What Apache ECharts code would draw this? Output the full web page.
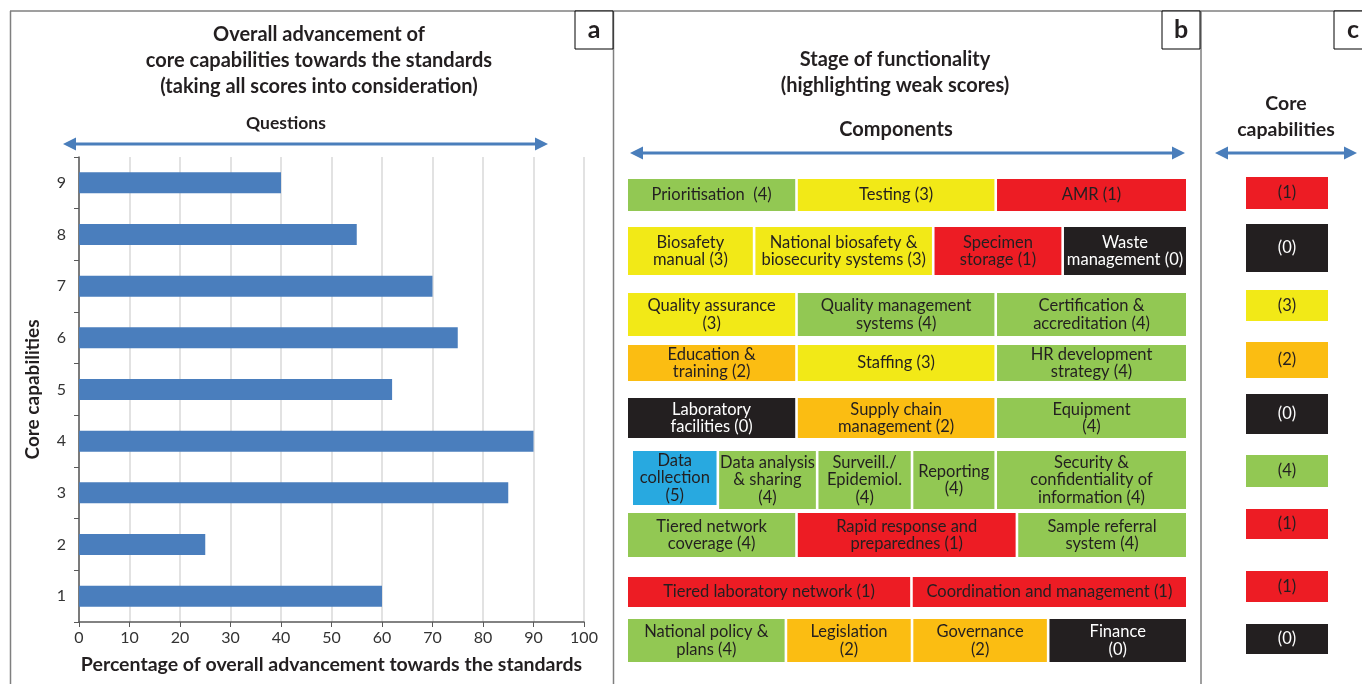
<!DOCTYPE html>
<html>
<head>
<meta charset="utf-8">
<script src="https://cdn.jsdelivr.net/npm/echarts@6/dist/echarts.min.js"></script>
<style>
  html, body { margin: 0; padding: 0; background: #fff; }
  #main { width: 1362px; height: 684px; }
</style>
</head>
<body>
<div id="main"></div>
<script>
// ---- panel a: overall advancement per core capability (%)
const capabilities = ['1', '2', '3', '4', '5', '6', '7', '8', '9'];
const advancement = [60, 25, 85, 90, 62, 75, 70, 55, 40];

// ---- panel b: components and their scores, rows from top to bottom
const componentNames = [
  ['Prioritisation ', 'Testing', 'AMR'],
  ['Biosafety\nmanual', 'National biosafety &\nbiosecurity systems', 'Specimen\nstorage', 'Waste\nmanagement'],
  ['Quality assurance\n', 'Quality management\nsystems', 'Certification &\naccreditation'],
  ['Education &\ntraining', 'Staffing', 'HR development\nstrategy'],
  ['Laboratory\nfacilities', 'Supply chain\nmanagement', 'Equipment\n'],
  ['Data\ncollection\n', 'Data analysis\n& sharing\n', 'Surveill./\nEpidemiol.\n', 'Reporting\n', 'Security &\nconfidentiality of\ninformation'],
  ['Tiered network\ncoverage', 'Rapid response and\npreparednes', 'Sample referral\nsystem'],
  ['Tiered laboratory network', 'Coordination and management'],
  ['National policy &\nplans', 'Legislation\n', 'Governance\n', 'Finance\n']
];
const componentScores = [
  [4, 3, 1],
  [3, 3, 1, 0],
  [3, 4, 4],
  [2, 3, 4],
  [0, 2, 4],
  [5, 4, 4, 4, 4],
  [4, 1, 4],
  [1, 1],
  [4, 2, 2, 0]
];

// ---- panel c: core capability scores, top to bottom
const coreScores = [1, 0, 3, 2, 0, 4, 1, 1, 0];

// layout of the blocks (hidden axes: x in % of row width, y in px)
const rowSpans = [[179, 211], [227, 275], [293, 336], [345, 381], [398, 438], [451, 509], [513, 557], [577, 607], [619, 662]];
const cellBreaks = [
  [30.2, 65.9], [22.6, 54.7, 77.9], [30.2, 65.9], [30.2, 65.9], [30.2, 65.9],
  [16.1, 33.9, 50.9, 65.9], [30.2, 69.7], [50.8], [28.3, 50.9, 75.3]
];
const coreSpans = [[177, 209], [224, 272], [290, 321], [342, 378], [394, 434], [455, 487], [509, 539], [571, 602], [624, 654]];
// the "Data collection" block sits a bit inside its slot: [row, cell, left px, bottom px]
const cellInsets = [[5, 0, 5, 4]];

const scoreColors = ['#231f20', '#ed1c24', '#fbbd12', '#f2e917', '#92c853', '#28a9e0'];
const FONT = 'Lato, "Open Sans", sans-serif';
const BLUE = '#4a7ebb';

// build block items for panel b
const bLabels = [];
const bData = [];
componentNames.forEach((names, r) => {
  const br = cellBreaks[r];
  names.forEach((nm, c) => {
    const x0 = c === 0 ? 0 : br[c - 1];
    const x1 = c === names.length - 1 ? 100 : br[c];
    const ins = cellInsets.find(d => d[0] === r && d[1] === c) || [r, c, 0, 0];
    const s = componentScores[r][c];
    bLabels.push(nm + (nm.endsWith('\n') ? '' : ' ') + '(' + s + ')');
    bData.push([x0, x1, rowSpans[r][0], rowSpans[r][1], s, ins[2], ins[3]]);
  });
});
const cData = coreScores.map((s, i) => [0, 1, coreSpans[i][0], coreSpans[i][1], s, 0, 0]);

function blockRenderer(labels) {
  return function (params, api) {
    const p0 = api.coord([api.value(0), api.value(2)]);
    const p1 = api.coord([api.value(1), api.value(3)]);
    const gap = 1.3;
    const x0 = p0[0] + (api.value(0) > 0 ? gap : 0) + api.value(5);
    const x1 = p1[0] - (api.value(1) < 100 && labels !== null ? gap : 0);
    const y0 = p0[1];
    const y1 = p1[1] - api.value(6);
    const s = api.value(4);
    const text = labels ? labels[params.dataIndex] : '(' + s + ')';
    return {
      type: 'group',
      children: [
        { type: 'rect', shape: { x: x0, y: y0, width: x1 - x0, height: y1 - y0 },
          style: { fill: scoreColors[s] } },
        { type: 'text', z2: 10,
          style: { text: text, x: (x0 + x1) / 2, y: (y0 + y1) / 2, align: 'center', verticalAlign: 'middle',
                   fill: s === 0 ? '#ffffff' : '#231f20', fontSize: 16.5, fontFamily: FONT, lineHeight: 17.5 } }
      ]
    };
  };
}

function arrow(xa, xb, y) {
  const h = 13, w = 6.5;
  return [
    { type: 'line', shape: { x1: xa + 8, y1: y, x2: xb - 8, y2: y }, style: { stroke: BLUE, lineWidth: 3 } },
    { type: 'polygon', shape: { points: [[xa, y], [xa + h, y - w], [xa + h, y + w]] }, style: { fill: BLUE } },
    { type: 'polygon', shape: { points: [[xb, y], [xb - h, y - w], [xb - h, y + w]] }, style: { fill: BLUE } }
  ];
}
function label(text, x, y, size) {
  return { type: 'text', x: x, y: y,
    style: { text: text, align: 'center', verticalAlign: 'middle', fill: '#231f20',
             fontSize: size || 20, fontWeight: 'bold', fontFamily: FONT, lineHeight: 26 } };
}
function letterBox(ch, x0) {
  return [
    { type: 'rect', shape: { x: x0, y: 11, width: 38, height: 38 }, style: { fill: '#fff', stroke: '#000', lineWidth: 1 } },
    { type: 'text', x: x0 + 19, y: 30, style: { text: ch, align: 'center', verticalAlign: 'middle', fill: '#231f20',
      fontSize: 25, fontWeight: 'bold', fontFamily: FONT } }
  ];
}

const frame = { stroke: '#7f7f7f', lineWidth: 1.5 };
const graphics = [
  { type: 'line', shape: { x1: 10, y1: 11, x2: 1362, y2: 11 }, style: frame },
  { type: 'line', shape: { x1: 10.5, y1: 11, x2: 10.5, y2: 684 }, style: frame },
  { type: 'line', shape: { x1: 613.5, y1: 11, x2: 613.5, y2: 684 }, style: frame },
  { type: 'line', shape: { x1: 1201, y1: 11, x2: 1201, y2: 684 }, style: frame },
  ...letterBox('a', 575), ...letterBox('b', 1162), ...letterBox('c', 1334),
  label('Overall advancement of\ncore capabilities towards the standards\n(taking all scores into consideration)', 319, 61),
  label('Questions', 286, 123, 17.5),
  ...arrow(63, 548, 144),
  label('Stage of functionality\n(highlighting weak scores)', 895, 73),
  label('Components', 896, 130),
  ...arrow(630, 1185, 153),
  label('Core\ncapabilities', 1286, 117, 19.5),
  ...arrow(1215, 1357, 153)
];

const chart = echarts.init(document.getElementById('main'), null, { renderer: 'canvas' });
chart.setOption({
  animation: false,
  textStyle: { fontFamily: FONT },
  grid: [
    { left: 79, top: 157, width: 505, height: 465 },
    { left: 628, top: 0, width: 558, height: 684 },
    { left: 1246, top: 0, width: 82, height: 684 }
  ],
  xAxis: [
    { type: 'value', gridIndex: 0, min: 0, max: 100, interval: 10,
      name: 'Percentage of overall advancement towards the standards', nameLocation: 'middle', nameGap: 33,
      nameTextStyle: { fontSize: 19.5, fontWeight: 'bold', color: '#231f20' },
      axisLine: { show: true, lineStyle: { color: '#595959', width: 1.5 } },
      axisTick: { show: true, length: 5, lineStyle: { color: '#595959' } },
      axisLabel: { fontSize: 16, color: '#333', margin: 8 },
      splitLine: { show: true, lineStyle: { color: '#d9d9d9', width: 1.5 } } },
    { type: 'value', gridIndex: 1, min: 0, max: 100, show: false },
    { type: 'value', gridIndex: 2, min: 0, max: 1, show: false }
  ],
  yAxis: [
    { type: 'category', gridIndex: 0, data: capabilities,
      name: 'Core capabilities', nameLocation: 'middle', nameGap: 37, nameRotate: 90,
      nameTextStyle: { fontSize: 19, fontWeight: 'bold', color: '#231f20' },
      axisLine: { show: true, lineStyle: { color: '#595959', width: 1.5 } },
      axisTick: { show: true, length: 5, lineStyle: { color: '#595959' } },
      axisLabel: { fontSize: 16, color: '#333', margin: 13 } },
    { type: 'value', gridIndex: 1, min: 0, max: 684, inverse: true, show: false },
    { type: 'value', gridIndex: 2, min: 0, max: 684, inverse: true, show: false }
  ],
  series: [
    { type: 'bar', xAxisIndex: 0, yAxisIndex: 0, data: advancement, barWidth: 21,
      itemStyle: { color: '#4a7ebd' } },
    { type: 'custom', xAxisIndex: 1, yAxisIndex: 1, data: bData, renderItem: blockRenderer(bLabels),
      encode: { x: [0, 1], y: [2, 3] } },
    { type: 'custom', xAxisIndex: 2, yAxisIndex: 2, data: cData, renderItem: blockRenderer(null),
      encode: { x: [0, 1], y: [2, 3] } }
  ],
  graphic: { elements: graphics }
});
</script>
</body>
</html>
